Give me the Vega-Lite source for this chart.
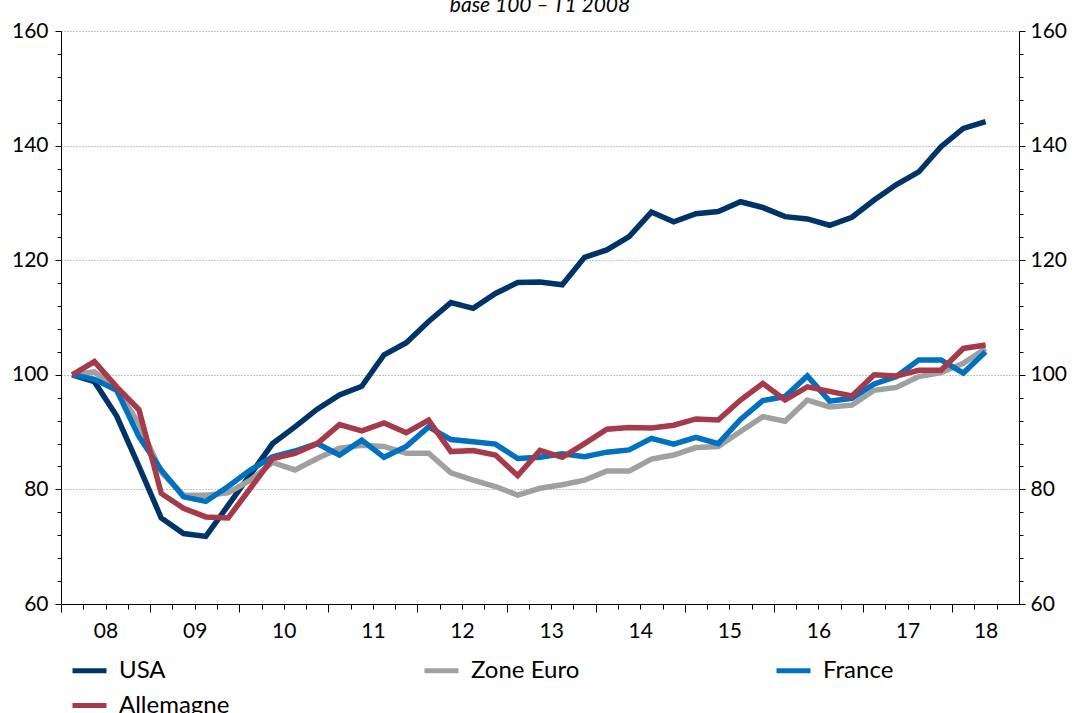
{
  "$schema": "https://vega.github.io/schema/vega-lite/v6.json",
  "width": 958,
  "height": 573,
  "autosize": {"type": "none"},
  "padding": {"left": 61, "top": 31, "right": 53, "bottom": 109},
  "background": "white",
  "title": {"text": "base 100 – T1 2008", "font": "Lato", "fontStyle": "italic", "fontWeight": "normal", "fontSize": 21, "color": "#000000", "anchor": "middle", "baseline": "alphabetic", "offset": -13},
  "config": {
    "view": {"stroke": null},
    "axis": {"labelFont": "Lato", "labelFontSize": 21, "labelColor": "#000000", "domainColor": "#000000", "tickColor": "#000000", "title": null, "domainWidth": 1, "tickWidth": 1}
  },
  "data": {"values": [
    {"t": 2008.125, "USA": 100, "Zone Euro": 100, "France": 100, "Allemagne": 100},
    {"t": 2008.375, "USA": 98.8, "Zone Euro": 100.5, "France": 99.2, "Allemagne": 102.3},
    {"t": 2008.625, "USA": 92.8, "Zone Euro": 97.5, "France": 97.3, "Allemagne": 97.9},
    {"t": 2008.875, "USA": 84.0, "Zone Euro": 91.5, "France": 89.2, "Allemagne": 93.9},
    {"t": 2009.125, "USA": 75.0, "Zone Euro": 83.0, "France": 83.4, "Allemagne": 79.3},
    {"t": 2009.375, "USA": 72.3, "Zone Euro": 79.0, "France": 78.7, "Allemagne": 76.7},
    {"t": 2009.625, "USA": 71.8, "Zone Euro": 79.0, "France": 77.9, "Allemagne": 75.2},
    {"t": 2009.875, "USA": 77.2, "Zone Euro": 79.4, "France": 80.5, "Allemagne": 75.0},
    {"t": 2010.125, "USA": 82.6, "Zone Euro": 81.6, "France": 83.4, "Allemagne": 80.2},
    {"t": 2010.375, "USA": 88.0, "Zone Euro": 84.7, "France": 85.7, "Allemagne": 85.4},
    {"t": 2010.625, "USA": 90.9, "Zone Euro": 83.4, "France": 86.7, "Allemagne": 86.3},
    {"t": 2010.875, "USA": 94.0, "Zone Euro": 85.4, "France": 88.0, "Allemagne": 88.0},
    {"t": 2011.125, "USA": 96.5, "Zone Euro": 87.2, "France": 86.0, "Allemagne": 91.3},
    {"t": 2011.375, "USA": 98.0, "Zone Euro": 87.7, "France": 88.6, "Allemagne": 90.2},
    {"t": 2011.625, "USA": 103.5, "Zone Euro": 87.5, "France": 85.6, "Allemagne": 91.6},
    {"t": 2011.875, "USA": 105.6, "Zone Euro": 86.3, "France": 87.5, "Allemagne": 89.9},
    {"t": 2012.125, "USA": 109.3, "Zone Euro": 86.3, "France": 90.9, "Allemagne": 92.1},
    {"t": 2012.375, "USA": 112.6, "Zone Euro": 82.9, "France": 88.7, "Allemagne": 86.6},
    {"t": 2012.625, "USA": 111.6, "Zone Euro": 81.6, "France": 88.3, "Allemagne": 86.8},
    {"t": 2012.875, "USA": 114.2, "Zone Euro": 80.5, "France": 87.9, "Allemagne": 86.0},
    {"t": 2013.125, "USA": 116.1, "Zone Euro": 79.0, "France": 85.4, "Allemagne": 82.4},
    {"t": 2013.375, "USA": 116.2, "Zone Euro": 80.2, "France": 85.6, "Allemagne": 86.8},
    {"t": 2013.625, "USA": 115.7, "Zone Euro": 80.8, "France": 86.2, "Allemagne": 85.6},
    {"t": 2013.875, "USA": 120.5, "Zone Euro": 81.6, "France": 85.7, "Allemagne": 88.0},
    {"t": 2014.125, "USA": 121.8, "Zone Euro": 83.2, "France": 86.5, "Allemagne": 90.5},
    {"t": 2014.375, "USA": 124.1, "Zone Euro": 83.2, "France": 86.9, "Allemagne": 90.8},
    {"t": 2014.625, "USA": 128.4, "Zone Euro": 85.3, "France": 88.9, "Allemagne": 90.7},
    {"t": 2014.875, "USA": 126.7, "Zone Euro": 86.0, "France": 87.9, "Allemagne": 91.2},
    {"t": 2015.125, "USA": 128.1, "Zone Euro": 87.3, "France": 89.1, "Allemagne": 92.3},
    {"t": 2015.375, "USA": 128.5, "Zone Euro": 87.5, "France": 88.0, "Allemagne": 92.1},
    {"t": 2015.625, "USA": 130.2, "Zone Euro": 90.1, "France": 92.2, "Allemagne": 95.6},
    {"t": 2015.875, "USA": 129.2, "Zone Euro": 92.7, "France": 95.5, "Allemagne": 98.5},
    {"t": 2016.125, "USA": 127.6, "Zone Euro": 91.9, "France": 96.2, "Allemagne": 95.6},
    {"t": 2016.375, "USA": 127.2, "Zone Euro": 95.6, "France": 99.8, "Allemagne": 97.9},
    {"t": 2016.625, "USA": 126.1, "Zone Euro": 94.4, "France": 95.4, "Allemagne": 97.1},
    {"t": 2016.875, "USA": 127.5, "Zone Euro": 94.7, "France": 95.9, "Allemagne": 96.3},
    {"t": 2017.125, "USA": 130.5, "Zone Euro": 97.3, "France": 98.4, "Allemagne": 100.0},
    {"t": 2017.375, "USA": 133.2, "Zone Euro": 97.8, "France": 99.7, "Allemagne": 99.8},
    {"t": 2017.625, "USA": 135.4, "Zone Euro": 99.7, "France": 102.6, "Allemagne": 100.8},
    {"t": 2017.875, "USA": 139.8, "Zone Euro": 100.4, "France": 102.6, "Allemagne": 100.8},
    {"t": 2018.125, "USA": 143.0, "Zone Euro": 102.0, "France": 100.3, "Allemagne": 104.6},
    {"t": 2018.375, "USA": 144.2, "Zone Euro": 104.6, "France": 104.0, "Allemagne": 105.2}
  ]},
  "transform": [{"fold": ["USA", "Zone Euro", "France", "Allemagne"], "as": ["pays", "valeur"]}],
  "layer": [
    {
      "mark": {"type": "line", "strokeWidth": 5.5, "strokeJoin": "miter", "strokeCap": "butt"},
      "encoding": {
        "x": {"field": "t", "type": "quantitative",
              "scale": {"domain": [2008, 2018.75], "nice": false, "zero": false},
              "axis": {"orient": "bottom", "values": [2008, 2009, 2010, 2011, 2012, 2013, 2014, 2015, 2016, 2017, 2018], "tickSize": 8, "labels": false, "grid": false, "domain": true}},
        "y": {"field": "valeur", "type": "quantitative",
              "scale": {"domain": [60, 160], "nice": false, "zero": false},
              "axis": {"orient": "left", "values": [60, 80, 100, 120, 140, 160], "tickSize": 6, "labelPadding": 7, "grid": true, "gridDash": [1, 2], "gridColor": "#8a8a8a", "gridWidth": 1, "domain": true}},
        "color": {"field": "pays", "type": "nominal",
                  "scale": {"domain": ["USA", "Zone Euro", "France", "Allemagne"], "range": ["#003466", "#A0A0A0", "#0070C0", "#A53A4A"]},
                  "legend": {"orient": "none", "legendX": 9, "legendY": 620, "direction": "horizontal", "columns": 3, "gridAlign": "all", "columnPadding": 184, "rowPadding": 3, "padding": 0, "title": null, "symbolType": "stroke", "symbolSize": 1156, "symbolStrokeWidth": 5, "labelFont": "Lato", "labelFontSize": 24, "labelColor": "#000000", "labelOffset": 10}}
      }
    },
    {
      "mark": {"type": "line", "opacity": 0},
      "encoding": {
        "x": {"field": "t", "type": "quantitative",
              "axis": {"orient": "bottom", "values": [2008.25, 2008.5, 2008.75, 2009.25, 2009.5, 2009.75, 2010.25, 2010.5, 2010.75, 2011.25, 2011.5, 2011.75, 2012.25, 2012.5, 2012.75, 2013.25, 2013.5, 2013.75, 2014.25, 2014.5, 2014.75, 2015.25, 2015.5, 2015.75, 2016.25, 2016.5, 2016.75, 2017.25, 2017.5, 2017.75, 2018.25, 2018.5], "tickSize": 5, "labels": false, "grid": false, "domain": false}},
        "y": {"field": "valeur", "type": "quantitative",
              "axis": {"orient": "left", "values": [64, 68, 72, 76, 84, 88, 92, 96, 104, 108, 112, 116, 124, 128, 132, 136, 144, 148, 152, 156], "tickSize": 4, "labels": false, "grid": false, "domain": false}},
        "detail": {"field": "pays"}
      }
    },
    {
      "mark": {"type": "line", "opacity": 0},
      "encoding": {
        "x": {"field": "t", "type": "quantitative",
              "axis": {"orient": "bottom", "values": [2008.5, 2009.5, 2010.5, 2011.5, 2012.5, 2013.5, 2014.5, 2015.5, 2016.5, 2017.5, 2018.375], "ticks": false, "tickSize": 0, "labelPadding": 16, "domain": false, "grid": false,
                       "labelExpr": "(floor(datum.value) < 2010 ? '0' : '') + (floor(datum.value) - 2000)"}},
        "y": {"field": "valeur", "type": "quantitative",
              "axis": {"orient": "right", "values": [60, 80, 100, 120, 140, 160], "tickSize": 6, "labelPadding": 5, "grid": false, "domain": true}},
        "detail": {"field": "pays"}
      }
    },
    {
      "mark": {"type": "line", "opacity": 0},
      "encoding": {
        "x": {"field": "t", "type": "quantitative", "axis": null},
        "y": {"field": "valeur", "type": "quantitative",
              "axis": {"orient": "right", "values": [64, 68, 72, 76, 84, 88, 92, 96, 104, 108, 112, 116, 124, 128, 132, 136, 144, 148, 152, 156], "tickSize": 4, "labels": false, "grid": false, "domain": false}},
        "detail": {"field": "pays"}
      }
    }
  ],
  "resolve": {"axis": {"x": "independent", "y": "independent"}}
}
